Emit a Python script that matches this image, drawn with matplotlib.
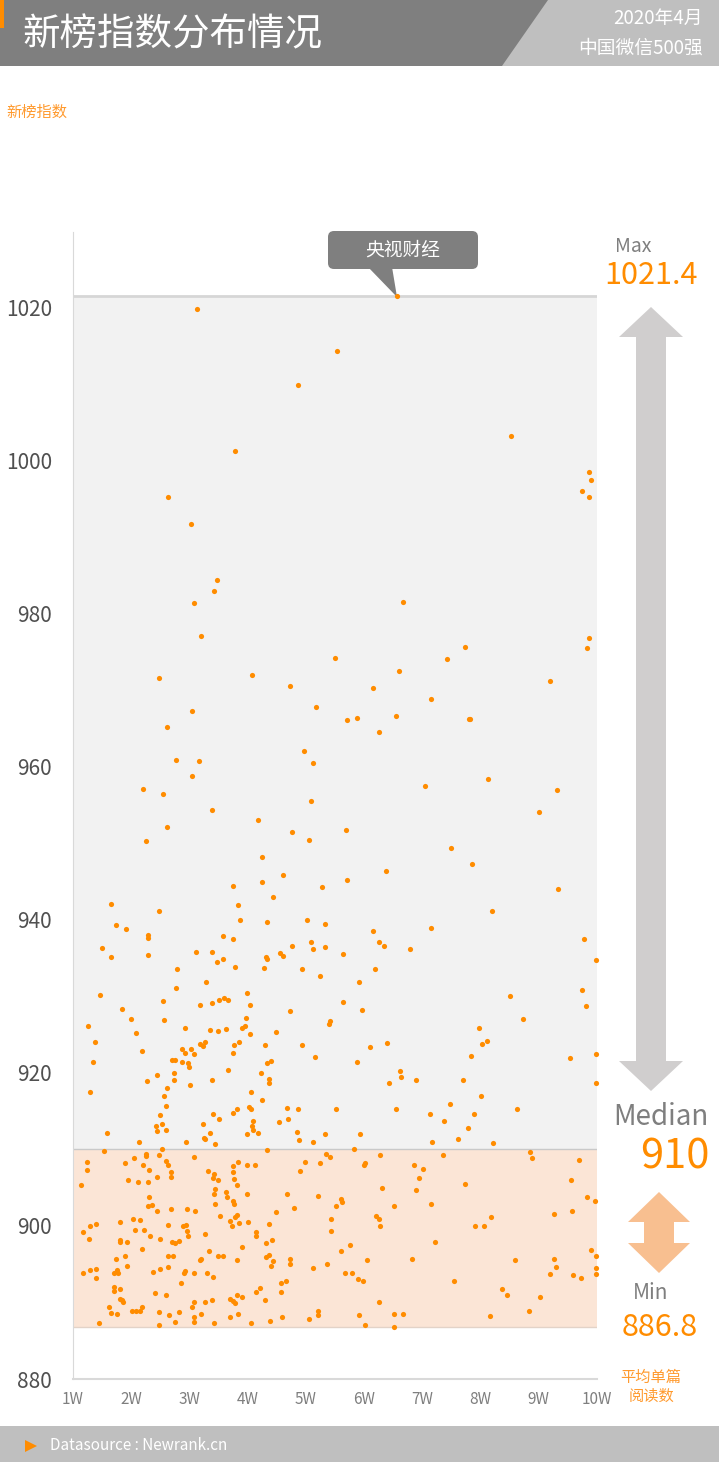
import matplotlib.pyplot as plt
from matplotlib.patches import Polygon, Rectangle, FancyBboxPatch

plt.rcParams['font.family'] = ['Noto Sans CJK SC', 'DejaVu Sans']
plt.rcParams['font.weight'] = 'light'

# summary values shown on the right
max_val = 1021.4
median_val = 910
min_val = 886.8
max_name = '央视财经'
max_x = 6.57

yticks = [880, 900, 920, 940, 960, 980, 1000, 1020]
xticks = [1, 2, 3, 4, 5, 6, 7, 8, 9, 10]
xlabels = ['%dW' % v for v in xticks]

# accounts above the median (x = avg reads in 万, y = index)
upper_x = [3.13, 4.87, 3.78, 2.64, 3.02, 6.57, 5.54, 8.53, 9.87, 9.90,
           9.75, 9.87, 3.47, 3.43, 3.08, 3.20, 2.48, 4.07, 4.73, 5.18,
           3.04, 2.62, 4.97, 5.13, 2.77, 3.16, 3.04, 2.20, 2.55, 3.38,
           5.08, 4.17, 2.62, 4.76, 5.05, 2.25, 4.25, 6.67, 9.86, 9.82,
           5.50, 7.73, 7.43, 6.60, 9.20, 6.16, 7.15, 5.71, 5.88, 6.55,
           7.80, 7.82, 6.25, 8.12, 7.05, 9.32, 9.01, 5.69, 7.50, 4.61,
           3.75, 4.25, 5.28, 4.44, 1.66, 3.83, 2.47, 3.87, 4.33, 5.02,
           5.33, 1.74, 1.91, 2.29, 2.29, 3.58, 3.75, 5.09, 1.49, 5.33,
           4.76, 5.12, 3.12, 3.39, 4.55, 4.61, 2.29, 1.66, 4.31, 4.34,
           3.58, 3.47, 4.28, 3.79, 2.79, 4.93, 5.24, 3.28, 2.77, 1.47,
           2.55, 3.18, 3.38, 3.51, 3.60, 3.67, 3.99, 4.04, 4.72, 1.85,
           2.00, 2.57, 3.97, 2.09, 1.26, 2.93, 3.35, 3.49, 3.63, 3.95,
           3.90, 4.04, 4.48, 5.40, 1.38, 3.77, 3.85, 3.18, 3.24, 3.26,
           4.29, 4.93, 2.19, 2.88, 2.93, 3.02, 3.07, 3.75, 1.35, 2.70,
           2.76, 2.88, 2.97, 3.00, 4.33, 4.40, 5.16, 3.66, 2.74, 4.23,
           2.44, 2.27, 2.74, 3.38, 4.36, 4.37, 3.01, 2.61, 1.30, 4.06,
           2.57, 4.24, 2.60, 4.02, 4.06, 4.67, 4.87, 3.82, 7.86, 6.37,
           5.71, 9.33, 8.20, 6.16, 7.15, 6.25, 6.35, 9.77, 6.79, 5.64,
           9.99, 6.19, 5.91, 5.64, 5.96, 8.50, 9.75, 9.81, 5.42, 8.73,
           7.97, 8.11, 8.03, 6.40, 6.10, 7.83, 9.53, 9.99, 5.87, 6.62,
           6.64, 6.43, 6.89, 7.70, 9.99, 8.00, 7.48, 5.52, 6.54, 8.62,
           2.49, 3.40, 3.74, 4.69, 4.54, 4.10, 4.08, 4.09, 4.17, 3.99,
           3.51, 3.23, 2.43, 2.53, 2.45, 2.60, 3.36, 3.25, 3.27, 1.58,
           2.13, 2.94, 3.44, 4.84, 4.88, 5.13, 5.33, 7.14, 7.89, 7.37,
           7.79, 5.93, 7.61, 7.17, 8.22, 5.83]
upper_y = [1019.8, 1009.8, 1001.2, 995.2, 991.7, 1021.4, 1014.2, 1003.1, 998.5, 997.4,
           996.0, 995.2, 984.3, 982.9, 981.4, 977.0, 971.5, 971.9, 970.5, 967.7,
           967.2, 965.1, 962.0, 960.5, 960.8, 960.7, 958.8, 957.1, 956.4, 954.3,
           955.5, 953.0, 952.1, 951.5, 950.4, 950.2, 948.2, 981.5, 976.8, 975.5,
           974.1, 975.6, 974.0, 972.4, 971.2, 970.2, 968.8, 966.0, 966.3, 966.6,
           966.2, 966.2, 964.5, 958.3, 957.5, 956.9, 954.1, 951.7, 949.3, 945.8,
           944.4, 944.9, 944.2, 942.9, 942.0, 941.9, 941.1, 940.0, 939.7, 939.9,
           939.4, 939.3, 938.8, 938.0, 937.6, 937.9, 937.5, 937.1, 936.3, 936.4,
           936.5, 936.1, 935.8, 935.8, 935.6, 935.2, 935.4, 935.1, 935.1, 934.8,
           934.9, 934.5, 933.7, 933.8, 933.6, 933.5, 932.6, 931.8, 931.1, 930.1,
           929.4, 928.9, 929.1, 929.5, 929.8, 929.5, 930.4, 928.9, 928.0, 928.3,
           927.0, 926.9, 927.2, 925.2, 926.1, 925.9, 925.6, 925.5, 925.7, 926.1,
           925.8, 925.1, 925.3, 926.4, 924.0, 923.6, 924.0, 923.7, 923.5, 924.0,
           923.6, 923.6, 922.8, 923.1, 922.6, 923.1, 922.5, 922.6, 921.4, 921.7,
           921.6, 921.4, 921.3, 920.7, 921.3, 921.5, 922.1, 920.3, 920.0, 920.0,
           919.7, 918.9, 919.0, 919.0, 919.2, 918.6, 918.4, 918.0, 917.5, 917.5,
           917.0, 916.5, 915.7, 915.5, 915.3, 915.4, 915.3, 915.2, 947.3, 946.3,
           945.2, 944.0, 941.1, 938.5, 938.9, 937.1, 936.5, 937.5, 936.1, 935.5,
           934.7, 933.6, 931.8, 929.3, 928.2, 930.0, 930.8, 928.7, 926.8, 927.0,
           925.8, 924.2, 923.8, 923.9, 923.3, 922.2, 921.9, 922.4, 921.4, 920.2,
           919.4, 918.6, 919.0, 919.0, 918.7, 916.9, 915.9, 915.2, 915.2, 915.2,
           914.5, 914.6, 914.7, 914.0, 913.5, 913.7, 913.1, 912.5, 912.1, 912.0,
           914.0, 913.3, 913.0, 913.3, 912.4, 912.5, 912.1, 911.5, 911.4, 912.1,
           911.0, 910.9, 910.7, 912.2, 911.2, 910.9, 912.0, 914.6, 914.6, 913.7,
           912.8, 912.0, 911.3, 911.0, 910.8, 910.0]

# accounts at or below the median
lower_x = [1.54, 2.53, 4.34, 1.24, 1.24, 1.13, 1.90, 2.05, 2.25, 2.25,
           2.47, 2.60, 2.63, 2.21, 2.30, 2.69, 2.69, 2.44, 1.94, 2.11,
           2.28, 3.07, 3.32, 3.42, 3.40, 3.49, 3.83, 3.74, 3.74, 3.76,
           3.81, 3.98, 4.13, 3.44, 3.43, 3.44, 3.62, 3.64, 3.74, 3.76,
           3.99, 2.31, 2.28, 2.35, 2.45, 2.69, 2.95, 3.10, 3.53, 3.79,
           3.82, 3.70, 3.73, 3.85, 4.01, 4.48, 4.68, 4.80, 4.90, 4.99,
           5.25, 5.20, 1.30, 1.39, 1.18, 1.27, 1.80, 2.03, 2.15, 2.06,
           2.22, 1.81, 1.81, 1.92, 2.32, 2.49, 2.63, 2.89, 2.94, 2.95,
           2.98, 2.70, 2.76, 2.82, 2.18, 3.26, 4.15, 4.15, 4.37, 4.32,
           4.42, 3.91, 3.34, 3.49, 3.57, 1.90, 1.74, 2.63, 2.72, 1.93,
           3.18, 3.19, 2.64, 2.50, 2.37, 2.91, 2.93, 3.08, 3.30, 3.40,
           3.82, 4.32, 4.37, 4.44, 4.40, 4.72, 4.73, 5.13, 5.37, 1.18,
           1.29, 1.40, 1.39, 1.70, 1.76, 1.77, 1.71, 1.71, 1.81, 1.81,
           1.84, 1.86, 1.61, 1.66, 1.76, 1.44, 2.01, 2.09, 2.15, 2.19,
           2.40, 2.48, 2.47, 2.60, 2.65, 2.75, 2.82, 2.85, 3.07, 3.05,
           3.08, 3.07, 3.19, 3.27, 3.39, 3.42, 3.70, 3.74, 3.79, 3.82,
           3.90, 3.84, 3.70, 4.06, 4.14, 4.21, 4.30, 4.39, 4.57, 4.66,
           4.58, 4.59, 5.05, 5.20, 5.21, 5.35, 5.42, 6.28, 7.35, 8.85,
           8.88, 9.69, 6.01, 5.99, 6.85, 7.01, 6.95, 6.89, 6.31, 7.74,
           9.56, 9.83, 9.97, 5.61, 5.62, 5.52, 6.52, 7.15, 9.57, 9.27,
           6.21, 6.25, 6.27, 5.43, 5.43, 7.90, 8.06, 8.18, 7.22, 5.75,
           5.61, 6.05, 6.83, 5.68, 5.79, 5.90, 5.98, 7.54, 8.60, 9.26,
           9.30, 9.20, 9.58, 9.73, 9.89, 9.99, 9.99, 9.99, 8.36, 8.46,
           9.02, 8.84, 8.17, 6.25, 5.92, 6.51, 6.67, 6.02, 6.51]
lower_y = [909.8, 910.0, 909.9, 908.3, 907.3, 905.4, 908.2, 908.8, 909.4, 909.1,
           909.3, 908.5, 908.0, 907.9, 907.3, 907.0, 906.4, 906.4, 906.0, 905.7,
           905.7, 909.0, 907.2, 906.8, 906.2, 906.0, 908.3, 907.8, 907.0, 906.1,
           905.4, 907.9, 908.0, 904.8, 904.1, 902.9, 904.4, 903.8, 903.3, 902.9,
           904.2, 903.8, 902.6, 902.7, 901.9, 902.2, 902.2, 902.0, 901.3, 901.1,
           901.4, 900.6, 900.0, 900.4, 900.5, 901.8, 904.1, 902.3, 907.2, 908.4,
           908.2, 903.9, 900.0, 900.3, 899.2, 898.3, 900.5, 900.9, 900.8, 899.5,
           899.5, 898.2, 897.9, 897.9, 898.7, 898.3, 900.1, 900.0, 900.1, 899.3,
           898.7, 897.9, 897.8, 898.0, 897.0, 898.9, 899.2, 898.7, 900.2, 897.8,
           898.2, 897.2, 896.7, 896.1, 896.1, 896.1, 895.7, 896.0, 896.1, 894.7,
           895.5, 895.7, 894.6, 894.4, 894.0, 893.8, 894.1, 893.8, 893.8, 893.3,
           895.5, 895.9, 896.2, 895.4, 894.7, 895.7, 895.0, 894.5, 895.0, 893.9,
           894.2, 894.4, 893.2, 893.9, 894.3, 893.8, 892.0, 891.5, 891.8, 890.5,
           890.3, 890.1, 889.4, 888.6, 888.5, 887.3, 888.9, 888.9, 888.9, 889.4,
           891.2, 888.8, 887.1, 891.0, 888.4, 887.5, 888.7, 892.6, 890.0, 889.4,
           888.1, 887.5, 888.5, 890.0, 890.3, 887.3, 890.4, 890.2, 889.9, 891.0,
           890.7, 888.5, 888.1, 887.3, 891.3, 891.9, 890.3, 887.6, 892.6, 892.8,
           891.3, 888.1, 887.8, 888.9, 888.4, 909.4, 909.0, 909.3, 909.3, 909.7,
           908.8, 908.6, 908.2, 907.9, 908.0, 907.4, 906.2, 904.7, 904.9, 905.5,
           906.0, 903.8, 903.3, 903.5, 903.1, 902.6, 902.6, 902.9, 902.0, 901.6,
           901.3, 900.9, 900.0, 900.9, 899.3, 900.0, 900.0, 901.2, 897.9, 897.5,
           896.7, 895.5, 895.7, 893.8, 893.8, 893.0, 892.8, 892.8, 895.5, 895.7,
           894.6, 893.7, 893.6, 893.2, 896.8, 896.0, 894.5, 893.7, 891.8, 891.0,
           890.7, 888.9, 888.2, 890.1, 888.3, 888.5, 888.5, 887.0, 886.8]

assert len(upper_x) == len(upper_y) and len(lower_x) == len(lower_y)

ORANGE = '#FF8C00'
GREY_TXT = '#7F7F7F'

W, H = 719, 1462
fig = plt.figure(figsize=(W / 100, H / 100), dpi=100)

# background layer in pixel coordinates (header, footer, side arrows)
deco = fig.add_axes([0, 0, 1, 1], zorder=0)
deco.set_xlim(0, W)
deco.set_ylim(H, 0)
deco.axis('off')

deco.add_patch(Rectangle((0, 0), W, 66, color='#7F7F7F', lw=0))
deco.add_patch(Polygon([(548, 0), (W, 0), (W, 66), (502, 66)], closed=True, color='#BFBFBF', lw=0))
deco.add_patch(Rectangle((0, 0), 4, 28, color=ORANGE, lw=0))
deco.text(22, 35, '新榜指数分布情况', color='white', fontsize=27, va='center', ha='left')
deco.text(703, 18, '2020年4月', color='white', fontsize=13.5, va='center', ha='right')
deco.text(703, 48, '中国微信500强', color='white', fontsize=13.5, va='center', ha='right')
deco.text(6, 112, '新榜指数', color='#FF9A2E', fontsize=11, va='center', ha='left')


def double_arrow(cx, top, bot, head_w, head_h, shaft_w, color):
    pts = [(cx, top), (cx + head_w, top + head_h), (cx + shaft_w, top + head_h),
           (cx + shaft_w, bot - head_h), (cx + head_w, bot - head_h), (cx, bot),
           (cx - head_w, bot - head_h), (cx - shaft_w, bot - head_h),
           (cx - shaft_w, top + head_h), (cx - head_w, top + head_h)]
    deco.add_patch(Polygon(pts, closed=True, color=color, lw=0))


double_arrow(651, 307, 1091, 32, 30, 15, '#D0CECE')
double_arrow(659, 1192, 1273, 31, 30, 15, '#F8BF90')

deco.text(633, 246, 'Max', color=GREY_TXT, fontsize=14, ha='center', va='center')
deco.text(651, 276, '%.1f' % max_val, color=ORANGE, fontsize=22, ha='center', va='center')
deco.text(661, 1117, 'Median', color=GREY_TXT, fontsize=20, ha='center', va='center')
deco.text(709, 1157, '%d' % median_val, color=ORANGE, fontsize=30, ha='right', va='center')
deco.text(651, 1293, 'Min', color=GREY_TXT, fontsize=15, ha='center', va='center')
deco.text(660, 1328, '%.1f' % min_val, color=ORANGE, fontsize=22, ha='center', va='center')
deco.text(651, 1387, '平均单篇\n阅读数', color='#FF9A2E', fontsize=11, ha='center', va='center',
          linespacing=1.1)

# callout for the top account
deco.add_patch(FancyBboxPatch((328, 231), 150, 38, boxstyle='round,pad=0,rounding_size=6',
                              fc='#7F7F7F', ec='none'))
deco.add_patch(Polygon([(368, 267), (392, 267), (397, 297)], closed=True, color='#7F7F7F', lw=0))
deco.text(403, 250, max_name, color='white', fontsize=13.5, ha='center', va='center')

# footer
deco.add_patch(Rectangle((0, 1426), W, 36, color='#BFBFBF', lw=0))
deco.add_patch(Polygon([(25, 1440), (37, 1446), (25, 1452)], closed=True, color=ORANGE, lw=0))
deco.text(50, 1446, 'Datasource : Newrank.cn', color='white', fontsize=11, ha='left', va='center')

# main scatter
ax = fig.add_axes([73 / W, 1 - 1379 / H, 524 / W, (1379 - 232) / H], zorder=1)
ax.set_facecolor('none')
ax.set_xlim(1, 10)
ax.set_ylim(880, 880 + (1379 - 232) / 7.657)

ax.axhspan(median_val, max_val, color='#F2F2F2', zorder=0, lw=0)
ax.axhspan(min_val, median_val, color='#FBE5D6', zorder=0, lw=0)
ax.axhline(max_val, color='#D6D6D6', lw=2, zorder=1)
ax.axhline(median_val, color='#C9C9C9', lw=1, zorder=1)
ax.axhline(min_val, color='#E3D3C8', lw=1, zorder=1)

ax.scatter(upper_x, upper_y, s=14, color=ORANGE, lw=0, zorder=3, clip_on=False)
ax.scatter(lower_x, lower_y, s=14, color=ORANGE, lw=0, zorder=3, clip_on=False)

for side in ['top', 'right']:
    ax.spines[side].set_visible(False)
ax.spines['left'].set_color('#D9D9D9')
ax.spines['bottom'].set_color('#D9D9D9')
ax.spines['bottom'].set_linewidth(1.5)

ax.set_yticks(yticks)
ax.set_yticklabels([str(v) for v in yticks])
ax.set_xticks(xticks)
ax.set_xticklabels(xlabels)
ax.tick_params(axis='y', length=0, pad=15, labelsize=15, labelcolor='#505050')
ax.tick_params(axis='x', length=0, pad=9, labelsize=11, labelcolor=GREY_TXT)

fig.savefig('out.png', dpi=100)
